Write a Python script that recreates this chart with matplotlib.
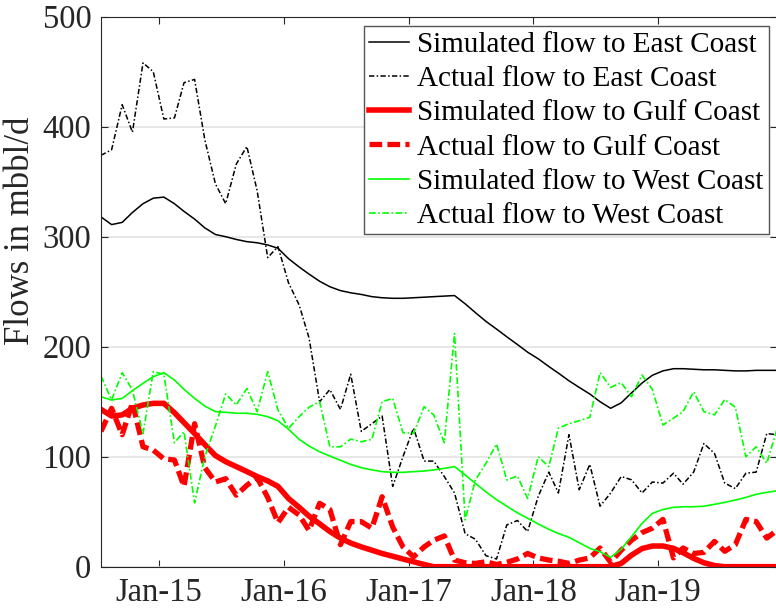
import numpy as np
import pandas as pd
import matplotlib
matplotlib.use("Agg")
import matplotlib.pyplot as plt
import matplotlib.dates as mdates

# monthly flows (mbbl/d), mid-month points Jul 2014 .. Dec 2019
months = pd.date_range("2014-07-01", "2019-12-01", freq="MS") + pd.Timedelta(days=14)

east_sim = [318, 311, 313, 322, 330, 335, 336, 330, 323, 316, 308, 302,
            300, 297.5, 295.5, 294.5, 292.5, 289.5, 280, 272.5, 266, 259.5, 254.5, 251,
            249, 247.5, 245.5, 244.5, 244, 244, 244.5, 245, 245.5, 246, 246.5, 239,
            231, 223, 216, 209, 202, 195, 189, 182, 176, 169, 163, 157,
            150, 144, 149, 158, 167, 174, 178, 180, 180, 179.5, 179, 179,
            178.5, 178, 178, 178.5, 178.5, 178.5]
east_act = [374, 379, 420, 395, 458, 450, 407, 408, 440, 443, 388, 348,
            330, 366, 382, 342, 281, 291, 258, 238, 208, 150, 161, 143,
            175, 123, 130, 137, 73, 100, 126, 96, 96, 82, 67, 30,
            25, 10, 7, 38, 42, 32, 64, 86, 67, 120, 70, 93,
            55, 67, 82, 79, 67, 77, 76, 85, 75, 86, 112, 103,
            76, 71, 85, 86, 121, 120]
gulf_sim = [143, 137, 138, 144, 147, 148.5, 148.5, 140, 131, 121, 111, 101,
            95.5, 91, 86.5, 82, 78, 73, 62, 54, 46, 39, 32, 26,
            21.5, 18, 15, 12, 9.5, 7, 4.5, 2, 0, 0, 0, 0,
            0, 0, 0, 0, 0, 0, 0, 0, 0, 0, 0, 0,
            0, 0, 3, 10.5, 16.5, 18.8, 18.8, 16.7, 12.7, 7.6, 3.6, 1,
            0, 0, 0, 0, 0, 0]
gulf_act = [123, 144, 120, 149, 109, 106, 98, 97, 73, 130, 90, 77,
            80, 65, 74, 81, 63, 40, 54, 47, 33, 57.6, 52, 20,
            41, 41, 35, 63.6, 36, 18, 9, 18, 24, 28, 6, 3.6,
            3, 4.5, 2, 4, 7, 12, 8, 6, 5, 3, 6, 8,
            17, 4, 15, 24, 31, 35, 43, 8, 17, 12, 13, 23,
            14, 20, 43, 41, 26, 33]
west_sim = [154.5, 151.5, 153, 160, 166.7, 172.7, 176.4, 169.7, 161.3, 153, 146, 141,
            140.4, 139.5, 139.5, 138.5, 136.4, 132.7, 125, 115.8, 109.7, 104.5, 100.6, 96.7,
            93, 90, 88, 86.4, 85.8, 85.8, 86.4, 87, 88, 89.4, 91, 83.4,
            75.8, 68, 61, 55, 49, 44, 38.8, 34, 30.2, 26.7, 21.8, 16.7,
            13.6, 8.5, 15.8, 27.3, 39.4, 48.5, 52, 54, 54.5, 54.5, 55, 56.7,
            58.5, 60.6, 63, 65.8, 67.6, 69]
west_act = [173.4, 151.5, 176.4, 160.6, 121, 177.3, 175, 112.7, 122.7, 58, 100, 128,
            157, 147, 162, 141, 177.3, 142.5, 125.8, 136.4, 145, 150, 109, 109,
            116, 113.6, 115.8, 150, 153, 121.8, 121.2, 145.5, 138, 112.7, 212, 42.5,
            78.8, 94, 111.5, 78.8, 82.5, 62, 100, 91, 126, 130, 132.7, 135.8,
            176.4, 163, 167.3, 154.5, 174.3, 161.3, 128.8, 135, 141, 159, 141, 138,
            152, 145, 100, 109, 94, 125]

labels = ["Simulated flow to East Coast", "Actual flow to East Coast",
          "Simulated flow to Gulf Coast", "Actual flow to Gulf Coast",
          "Simulated flow to West Coast", "Actual flow to West Coast"]

plt.rcParams['font.family'] = ['Liberation Serif', 'DejaVu Serif']
axcol = '#262626'

fig = plt.figure(figsize=(7.76, 6.09), dpi=100)
ax = fig.add_axes([101/776, 1 - 566.7/609, 676/776, 550/609])

ax.plot(months, east_sim, color='black', lw=1.1, label=labels[0])
ax.plot(months, east_act, color='black', lw=1.1, dashes=(3.5, 1.5, 1, 1.5), label=labels[1])
ax.plot(months, gulf_sim, color='red', lw=4, label=labels[2])
ax.plot(months, gulf_act, color='red', lw=3.8, dashes=(2.4, 1.0), label=labels[3])
ax.plot(months, west_sim, color='#00ff00', lw=1.2, label=labels[4])
ax.plot(months, west_act, color='#00ff00', lw=1.2, dashes=(4, 1.5, 1, 1.5), label=labels[5])

ax.set_xlim(months[0], months[-1])
ax.set_ylim(0, 500)
ax.set_yticks(np.arange(0, 501, 100))
ax.xaxis.set_major_locator(mdates.YearLocator(month=1, day=1))
ax.xaxis.set_major_formatter(mdates.DateFormatter('%b-%y'))

ax.grid(axis='y', color='#e3e3e3', lw=1.2)
ax.set_axisbelow(True)
for s in ax.spines.values():
    s.set_color(axcol)
    s.set_linewidth(0.8)
ax.tick_params(direction='in', length=5, width=0.8, color=axcol, labelcolor=axcol,
               labelsize=23.5, top=True, right=True)
ax.tick_params(axis='x', pad=8)
ax.tick_params(axis='y', pad=7)

ax.set_ylabel("Flows in mbbl/d", fontsize=25, color=axcol)
ax.yaxis.set_label_coords(-0.094, 0.61)

leg = ax.legend(loc='upper right', bbox_to_anchor=(0.988, 0.983), borderaxespad=0,
                fontsize=21, handlelength=1.35, handletextpad=0.3, labelspacing=0.27,
                borderpad=0.18, fancybox=False, framealpha=1)
leg.get_frame().set_edgecolor('#555555')
leg.get_frame().set_linewidth(1.0)

fig.savefig("out.png", dpi=100)
